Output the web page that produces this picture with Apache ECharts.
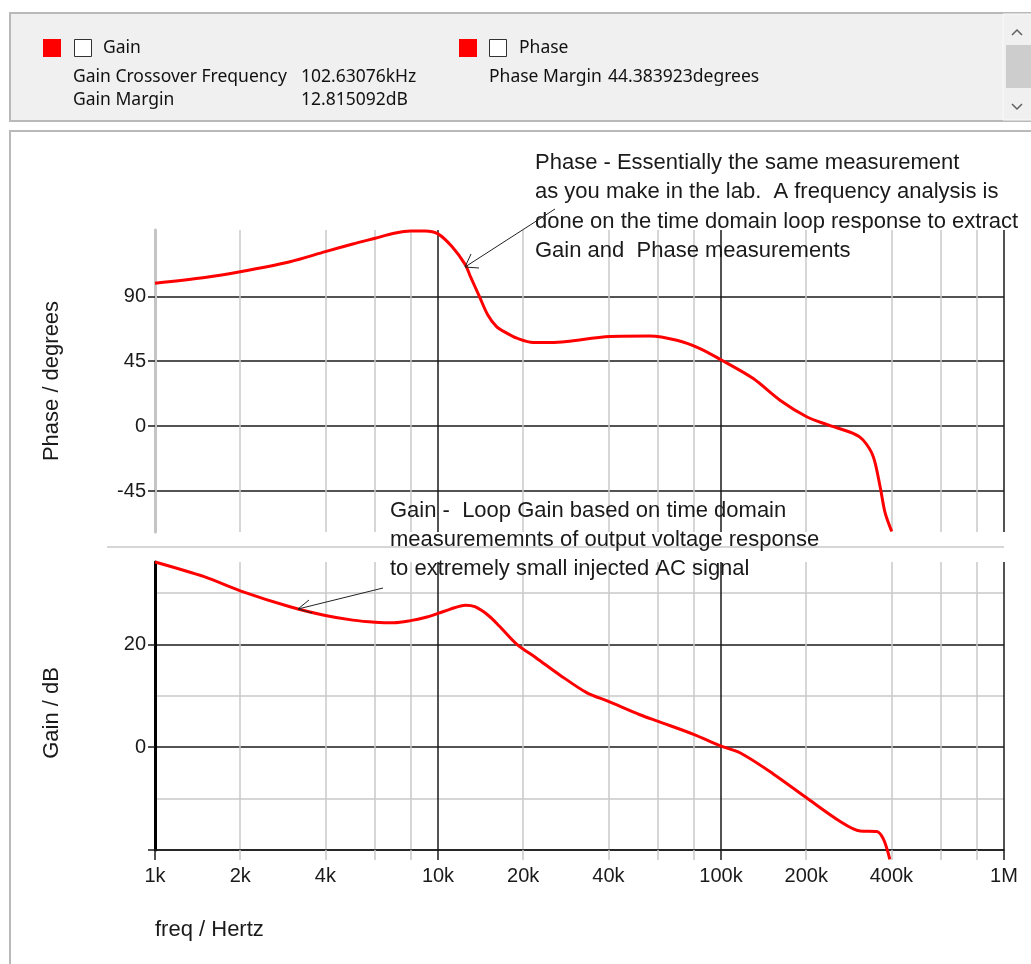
<!DOCTYPE html>
<html>
<head>
<meta charset="utf-8">
<title>Loop gain / phase</title>
<script src="https://cdn.jsdelivr.net/npm/echarts@6/dist/echarts.min.js"></script>
<style>
  html, body { margin: 0; padding: 0; background: #fff; }
  #main { width: 1031px; height: 964px; }
</style>
</head>
<body>
<div id="main"></div>
<script>
// phase curve (Hz / degrees)
const phaseFreq = [1000, 1500, 2000, 3000, 4000, 5000, 6000, 7000, 8000, 9000, 10000, 11200, 12500, 13000, 14000, 15000, 16100, 17500, 19000, 21700, 25000, 28500, 40500, 56000, 69800, 84300, 100000, 130000, 161600, 200800, 236000, 293000, 318000, 345000, 365000, 380000, 401000]
const phaseDeg = [99, 103, 107, 114, 121, 126.3, 130.3, 133.7, 135.3, 135.3, 133.3, 124.5, 111.8, 104, 90, 77, 69, 64.5, 61, 58, 58, 58.7, 62.2, 62.5, 59.5, 53.8, 46, 33, 18, 6.5, 1.2, -5, -9.7, -21, -42, -60, -73]

// gain curve (Hz / dB)
const gainFreq = [1000, 1500, 2000, 3000, 4000, 5000, 6000, 7000, 8000, 9000, 10000, 11000, 12500, 13500, 15000, 16500, 19000, 22300, 27000, 33500, 40000, 51700, 60000, 80000, 100000, 116700, 153000, 200000, 263000, 310000, 355000, 375000, 395000]
const gainDb = [36, 33.1, 30.4, 27.3, 25.6, 24.7, 24.3, 24.2, 24.6, 25.2, 26, 26.8, 27.6, 27.3, 25.7, 23.5, 20, 17.3, 14, 10.6, 8.9, 6.3, 5, 2.5, 0.2, -1.1, -5.2, -9.8, -14.4, -16.3, -16.4, -17.9, -21.8]

// axis ticks
const freqLabels = [1e3, 2e3, 4e3, 1e4, 2e4, 4e4, 1e5, 2e5, 4e5, 1e6]
const minorFreq = [2e3, 4e3, 6e3, 8e3, 2e4, 4e4, 6e4, 8e4, 2e5, 4e5, 6e5, 8e5]
const decadeFreq = [1e4, 1e5, 1e6]
const phaseTicks = [-45, 0, 45, 90]
const gainMajor = [-20, 0, 20]
const gainLabels = [0, 20]
const gainMinor = [-10, 10, 30]

const FONT = '"Liberation Sans", Arial, sans-serif'
const UI_FONT = '"Noto Sans", sans-serif'
const GRAY = '#c8c8c8'
const INK = '#1a1a1a'
const RED = '#ff0000'

function fmtFreq(v) {
  const r = Math.round(v)
  return r >= 1e6 ? (r / 1e6) + 'M' : (r / 1e3) + 'k'
}

function freqAxis(gridIndex, ticks, color, opts) {
  return Object.assign({
    type: 'log',
    logBase: 10,
    gridIndex: gridIndex,
    position: 'bottom',
    min: 1e3,
    max: 1e6,
    axisLine: { show: false, onZero: false },
    axisTick: { show: true, length: 0, customValues: ticks },
    axisLabel: { show: false },
    splitLine: { show: true, lineStyle: { color: color, width: 1.5 } }
  }, opts || {})
}

const chart = echarts.init(document.getElementById('main'))

const option = {
  animation: false,
  backgroundColor: '#fff',
  grid: [
    { left: 155, right: 27, top: 230, height: 302 },
    { left: 155, right: 27, top: 562, height: 288 }
  ],
  xAxis: [
    freqAxis(0, minorFreq, GRAY),
    freqAxis(0, decadeFreq, INK),
    freqAxis(1, minorFreq, GRAY, {
      axisTick: { show: true, length: 10, customValues: minorFreq, lineStyle: { color: GRAY, width: 1.5 } }
    }),
    freqAxis(1, decadeFreq, INK, {
      axisLine: { show: true, onZero: false, lineStyle: { color: INK, width: 1.5 } },
      axisTick: { show: true, length: 10, customValues: [1e3].concat(decadeFreq), lineStyle: { color: INK, width: 1.5 } },
      axisLabel: {
        show: true, customValues: freqLabels, formatter: fmtFreq,
        fontFamily: FONT, fontSize: 20, color: INK, margin: 16
      }
    })
  ],
  yAxis: [
    {
      type: 'value', gridIndex: 0, min: -73.4, max: 136,
      name: 'Phase / degrees', nameLocation: 'middle', nameGap: 92, nameRotate: 90,
      nameTextStyle: { fontFamily: FONT, fontSize: 22, color: INK },
      axisLine: { show: true, lineStyle: { color: '#c4c4c4', width: 3 } },
      axisTick: { show: true, length: 7, customValues: phaseTicks, lineStyle: { color: INK, width: 1.5 } },
      axisLabel: { customValues: phaseTicks, fontFamily: FONT, fontSize: 20, color: INK, margin: 9 },
      splitLine: { show: true, lineStyle: { color: INK, width: 1.5 } }
    },
    {
      type: 'value', gridIndex: 1, min: -20, max: 36, position: 'left',
      name: 'Gain / dB', nameLocation: 'middle', nameGap: 92, nameRotate: 90,
      nameTextStyle: { fontFamily: FONT, fontSize: 22, color: INK, padding: [0, 14, 0, 0] },
      axisLine: { show: true, onZero: false, lineStyle: { color: '#000', width: 3 } },
      axisTick: { show: true, length: 7, customValues: gainMajor, lineStyle: { color: INK, width: 1.5 } },
      axisLabel: { customValues: gainLabels, fontFamily: FONT, fontSize: 20, color: INK, margin: 9 },
      splitLine: { show: true, lineStyle: { color: INK, width: 1.5 } }
    },
    {
      type: 'value', gridIndex: 1, min: -20, max: 36, position: 'left',
      axisLine: { show: false, onZero: false },
      axisTick: { show: true, length: 0, customValues: gainMinor },
      axisLabel: { show: false },
      splitLine: { show: true, lineStyle: { color: GRAY, width: 1.5 } }
    }
  ],
  series: [
    {
      name: 'Phase', type: 'line', xAxisIndex: 1, yAxisIndex: 0,
      data: phaseFreq.map((f, i) => [f, phaseDeg[i]]),
      showSymbol: false, smooth: 0.3, clip: false, z: 5,
      lineStyle: { color: RED, width: 3 }, itemStyle: { color: RED }
    },
    {
      name: 'Gain', type: 'line', xAxisIndex: 3, yAxisIndex: 1,
      data: gainFreq.map((f, i) => [f, gainDb[i]]),
      showSymbol: false, smooth: 0.3, clip: false, z: 5,
      lineStyle: { color: RED, width: 3 }, itemStyle: { color: RED }
    }
  ],
  graphic: [
    // window chrome
    { type: 'rect', z: -10, shape: { x: 10, y: 13, width: 1030, height: 108 }, style: { fill: '#f0f0f0', stroke: '#b9b9b9', lineWidth: 2 } },
    { type: 'rect', z: -10, shape: { x: 1003, y: 14, width: 30, height: 106 }, style: { fill: '#f0f0f0', stroke: '#fafafa', lineWidth: 1 } },
    { type: 'rect', z: -9, shape: { x: 1006, y: 45, width: 25, height: 43 }, style: { fill: '#cdcdcd' } },
    { type: 'polyline', shape: { points: [[1012, 35], [1017, 30], [1022, 35]] }, style: { stroke: '#606060', lineWidth: 1.5, fill: null } },
    { type: 'polyline', shape: { points: [[1012, 104], [1017, 109], [1022, 104]] }, style: { stroke: '#606060', lineWidth: 1.5, fill: null } },
    { type: 'rect', z: -10, shape: { x: 10, y: 131, width: 1040, height: 860 }, style: { fill: '#fff', stroke: '#b9b9b9', lineWidth: 2 } },
    // legend
    { type: 'rect', shape: { x: 43, y: 39, width: 18, height: 18 }, style: { fill: RED } },
    { type: 'rect', shape: { x: 74.5, y: 39.5, width: 17, height: 17 }, style: { fill: '#fff', stroke: '#333', lineWidth: 1 } },
    { type: 'text', x: 103, y: 48, style: { text: 'Gain', fontFamily: UI_FONT, fontSize: 17.5, fill: '#111', verticalAlign: 'middle' } },
    { type: 'text', x: 73, y: 77, style: { text: 'Gain Crossover Frequency', fontFamily: UI_FONT, fontSize: 17.5, fill: '#111', verticalAlign: 'middle' } },
    { type: 'text', x: 301, y: 77, style: { text: '102.63076kHz', fontFamily: UI_FONT, fontSize: 17.5, fill: '#111', verticalAlign: 'middle' } },
    { type: 'text', x: 73, y: 100, style: { text: 'Gain Margin', fontFamily: UI_FONT, fontSize: 17.5, fill: '#111', verticalAlign: 'middle' } },
    { type: 'text', x: 301, y: 100, style: { text: '12.815092dB', fontFamily: UI_FONT, fontSize: 17.5, fill: '#111', verticalAlign: 'middle' } },
    { type: 'rect', shape: { x: 459, y: 39, width: 18, height: 18 }, style: { fill: RED } },
    { type: 'rect', shape: { x: 489.5, y: 39.5, width: 17, height: 17 }, style: { fill: '#fff', stroke: '#333', lineWidth: 1 } },
    { type: 'text', x: 519, y: 48, style: { text: 'Phase', fontFamily: UI_FONT, fontSize: 17.5, fill: '#111', verticalAlign: 'middle' } },
    { type: 'text', x: 489, y: 77, style: { text: 'Phase Margin', fontFamily: UI_FONT, fontSize: 17.5, fill: '#111', verticalAlign: 'middle' } },
    { type: 'text', x: 608, y: 77, style: { text: '44.383923degrees', fontFamily: UI_FONT, fontSize: 17.5, fill: '#111', verticalAlign: 'middle' } },
    // divider between the two plots
    { type: 'line', shape: { x1: 107, y1: 547, x2: 1004, y2: 547 }, style: { stroke: '#d6d6d6', lineWidth: 2 } },
    // notes
    { type: 'text', x: 535, y: 148, z: 10, style: {
      text: 'Phase - Essentially the same measurement\nas you make in the lab.  A frequency analysis is\ndone on the time domain loop response to extract\nGain and  Phase measurements',
      fontFamily: FONT, fontSize: 22, lineHeight: 29.5, fill: INK } },
    { type: 'line', z: 10, shape: { x1: 555, y1: 209, x2: 465, y2: 267 }, style: { stroke: '#222', lineWidth: 1 } },
    { type: 'polyline', z: 10, shape: { points: [[479, 268], [465, 267], [471, 254]] }, style: { stroke: '#222', lineWidth: 1, fill: null } },
    { type: 'text', x: 390, y: 496, z: 10, style: {
      text: 'Gain -  Loop Gain based on time domain\nmeasurememnts of output voltage response\nto extremely small injected AC signal',
      fontFamily: FONT, fontSize: 22, lineHeight: 29.3, fill: INK } },
    { type: 'line', z: 10, shape: { x1: 383, y1: 588, x2: 298, y2: 609 }, style: { stroke: '#222', lineWidth: 1 } },
    { type: 'polyline', z: 10, shape: { points: [[312, 613], [298, 609], [309, 600]] }, style: { stroke: '#222', lineWidth: 1, fill: null } },
    { type: 'text', x: 155, y: 930, style: { text: 'freq / Hertz', fontFamily: FONT, fontSize: 22, fill: INK, verticalAlign: 'middle' } }
  ]
}

chart.setOption(option)
</script>
</body>
</html>
